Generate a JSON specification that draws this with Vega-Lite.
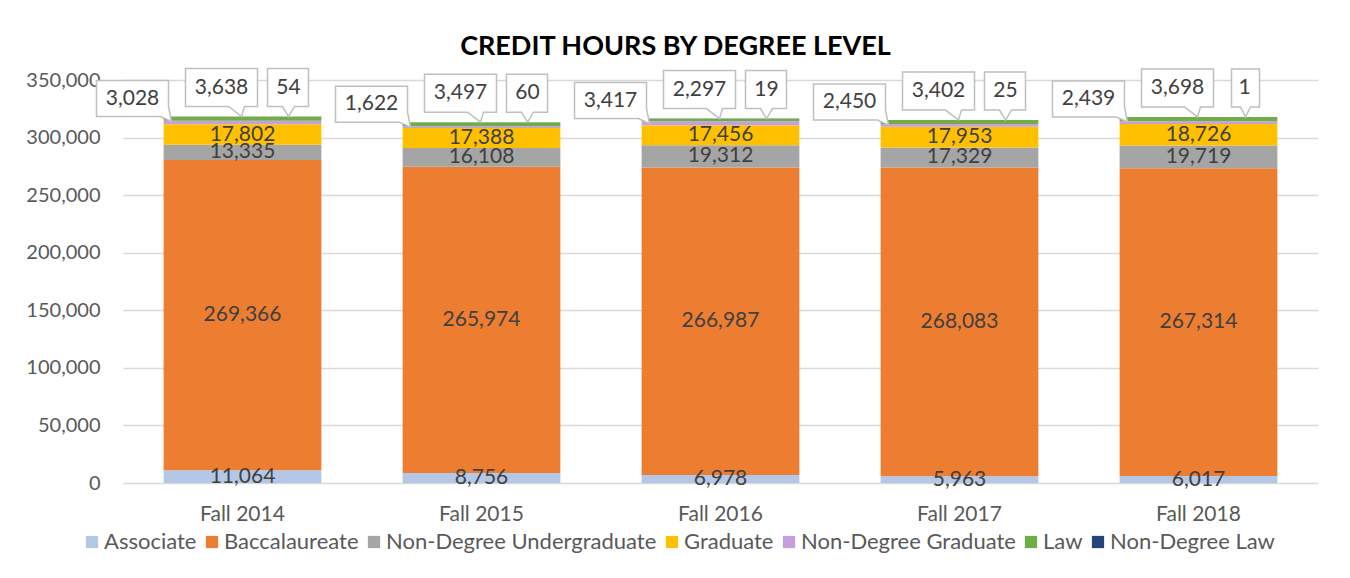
{
  "$schema": "https://vega.github.io/schema/vega-lite/v6.json",
  "autosize": {"type": "none"},
  "width": 1195,
  "height": 403,
  "padding": {"left": 123, "top": 80, "right": 32, "bottom": 95},
  "background": "white",
  "title": {"text": "CREDIT HOURS BY DEGREE LEVEL", "fontSize": 27, "fontWeight": "bold", "color": "#000000", "anchor": "middle", "offset": 5, "dx": -45, "font": "Lato"},
  "data": {"values": [
    {"year": "Fall 2014", "series": "Associate", "hours": 11064},
    {"year": "Fall 2014", "series": "Baccalaureate", "hours": 269366},
    {"year": "Fall 2014", "series": "Non-Degree Undergraduate", "hours": 13335},
    {"year": "Fall 2014", "series": "Graduate", "hours": 17802},
    {"year": "Fall 2014", "series": "Non-Degree Graduate", "hours": 3028},
    {"year": "Fall 2014", "series": "Law", "hours": 3638},
    {"year": "Fall 2014", "series": "Non-Degree Law", "hours": 54},
    {"year": "Fall 2015", "series": "Associate", "hours": 8756},
    {"year": "Fall 2015", "series": "Baccalaureate", "hours": 265974},
    {"year": "Fall 2015", "series": "Non-Degree Undergraduate", "hours": 16108},
    {"year": "Fall 2015", "series": "Graduate", "hours": 17388},
    {"year": "Fall 2015", "series": "Non-Degree Graduate", "hours": 1622},
    {"year": "Fall 2015", "series": "Law", "hours": 3497},
    {"year": "Fall 2015", "series": "Non-Degree Law", "hours": 60},
    {"year": "Fall 2016", "series": "Associate", "hours": 6978},
    {"year": "Fall 2016", "series": "Baccalaureate", "hours": 266987},
    {"year": "Fall 2016", "series": "Non-Degree Undergraduate", "hours": 19312},
    {"year": "Fall 2016", "series": "Graduate", "hours": 17456},
    {"year": "Fall 2016", "series": "Non-Degree Graduate", "hours": 3417},
    {"year": "Fall 2016", "series": "Law", "hours": 2297},
    {"year": "Fall 2016", "series": "Non-Degree Law", "hours": 19},
    {"year": "Fall 2017", "series": "Associate", "hours": 5963},
    {"year": "Fall 2017", "series": "Baccalaureate", "hours": 268083},
    {"year": "Fall 2017", "series": "Non-Degree Undergraduate", "hours": 17329},
    {"year": "Fall 2017", "series": "Graduate", "hours": 17953},
    {"year": "Fall 2017", "series": "Non-Degree Graduate", "hours": 2450},
    {"year": "Fall 2017", "series": "Law", "hours": 3402},
    {"year": "Fall 2017", "series": "Non-Degree Law", "hours": 25},
    {"year": "Fall 2018", "series": "Associate", "hours": 6017},
    {"year": "Fall 2018", "series": "Baccalaureate", "hours": 267314},
    {"year": "Fall 2018", "series": "Non-Degree Undergraduate", "hours": 19719},
    {"year": "Fall 2018", "series": "Graduate", "hours": 18726},
    {"year": "Fall 2018", "series": "Non-Degree Graduate", "hours": 2439},
    {"year": "Fall 2018", "series": "Law", "hours": 3698},
    {"year": "Fall 2018", "series": "Non-Degree Law", "hours": 1}
  ]},
  "transform": [
    {"calculate": "indexof(['Associate','Baccalaureate','Non-Degree Undergraduate','Graduate','Non-Degree Graduate','Law','Non-Degree Law'], datum.series)", "as": "ord"},
    {"stack": "hours", "groupby": ["year"], "sort": [{"field": "ord", "order": "ascending"}], "as": ["y0", "y1"]},
    {"calculate": "(datum.y0 + datum.y1) / 2", "as": "ymid"},
    {"joinaggregate": [{"op": "max", "field": "y1", "as": "total"}], "groupby": ["year"]}
  ],
  "encoding": {
    "x": {"field": "year", "type": "nominal", "title": null,
      "scale": {"paddingInner": 0.34, "paddingOuter": 0.17},
      "axis": {"labelAngle": 0, "labelFontSize": 21, "labelColor": "#595959", "labelPadding": 20, "ticks": false, "domain": false, "labelFont": "Lato"}}
  },
  "layer": [
    {
      "mark": {"type": "bar"},
      "encoding": {
        "y": {"field": "y0", "type": "quantitative", "title": null,
          "scale": {"domain": [0, 350000], "nice": false},
          "axis": {"values": [0, 50000, 100000, 150000, 200000, 250000, 300000, 350000], "labelExpr": "format(datum.value, ',')", "labelFontSize": 20, "labelColor": "#595959", "labelPadding": 23, "ticks": false, "domain": false, "gridColor": "#D9D9D9", "gridWidth": 1.3, "labelFont": "Lato"}},
        "y2": {"field": "y1"},
        "color": {"field": "series", "type": "nominal", "title": null,
          "scale": {"domain": ["Associate", "Baccalaureate", "Non-Degree Undergraduate", "Graduate", "Non-Degree Graduate", "Law", "Non-Degree Law"],
                    "range": ["#B4C7E7", "#ED7D31", "#A5A5A5", "#FFC000", "#C5A0DD", "#70AD47", "#264478"]},
          "legend": {"orient": "none", "legendX": -42, "legendY": 451, "direction": "horizontal", "symbolType": "square", "symbolSize": 150, "symbolStrokeWidth": 0, "labelFontSize": 22, "labelColor": "#595959", "labelFont": "Lato", "columnPadding": 4, "labelOffset": 1, "labelLimit": 400}}
      }
    },
    {
      "transform": [{"filter": "datum.ord <= 3"}],
      "mark": {"type": "text", "fontSize": 21, "color": "#404040", "baseline": "middle", "font": "Lato"},
      "encoding": {
        "y": {"field": "ymid", "type": "quantitative"},
        "text": {"field": "hours", "type": "quantitative", "format": ","}
      }
    },
    {
      "transform": [{"filter": "datum.series == 'Non-Degree Graduate'"}],
      "mark": {"type": "point", "shape": "M-14.6,-3.6L-7.4,-3.6L-7.4,-1L-7.1,0.5L-8.2,0L-14.6,0Z", "size": 400, "filled": true, "fill": "white", "stroke": "#BFBFBF", "strokeWidth": 1.5, "opacity": 1},
      "encoding": {"y": {"field": "total", "type": "quantitative"}}
    },
    {
      "transform": [{"filter": "datum.series == 'Non-Degree Graduate'"}],
      "mark": {"type": "text", "fontSize": 21, "color": "#404040", "baseline": "middle", "font": "Lato", "dx": -110, "dy": -18},
      "encoding": {
        "y": {"field": "total", "type": "quantitative"},
        "text": {"field": "hours", "type": "quantitative", "format": ","}
      }
    },
    {
      "transform": [{"filter": "datum.series == 'Law'"}],
      "mark": {"type": "point", "shape": "M-5.7,-4.8L1.5,-4.8L1.5,-1L0.2,-1L-0.1,0L-1.4,-1L-5.7,-1Z", "size": 400, "filled": true, "fill": "white", "stroke": "#BFBFBF", "strokeWidth": 1.5, "opacity": 1},
      "encoding": {"y": {"field": "total", "type": "quantitative"}}
    },
    {
      "transform": [{"filter": "datum.series == 'Law'"}],
      "mark": {"type": "text", "fontSize": 21, "color": "#404040", "baseline": "middle", "font": "Lato", "dx": -21, "dy": -29},
      "encoding": {
        "y": {"field": "total", "type": "quantitative"},
        "text": {"field": "hours", "type": "quantitative", "format": ","}
      }
    },
    {
      "transform": [{"filter": "datum.series == 'Non-Degree Law'"}],
      "mark": {"type": "point", "size": 400, "filled": true, "fill": "white", "stroke": "#BFBFBF", "strokeWidth": 1.5, "opacity": 1},
      "encoding": {
        "y": {"field": "total", "type": "quantitative"},
        "shape": {"condition": {"test": "datum.hours < 10", "value": "M3.3,-4.8L6.1,-4.8L6.1,-1L5.2,-1L4.7,0L4.2,-1L3.3,-1Z"}, "value": "M2.5,-4.8L6.6,-4.8L6.6,-1L5.2,-1L4.6,0L4,-1L2.5,-1Z"}
      }
    },
    {
      "transform": [{"filter": "datum.series == 'Non-Degree Law'"}],
      "mark": {"type": "text", "fontSize": 21, "color": "#404040", "baseline": "middle", "font": "Lato", "dx": 46, "dy": -29},
      "encoding": {
        "y": {"field": "total", "type": "quantitative"},
        "text": {"field": "hours", "type": "quantitative", "format": ","}
      }
    }
  ],
  "config": {"font": "Lato", "view": {"stroke": null}}
}
